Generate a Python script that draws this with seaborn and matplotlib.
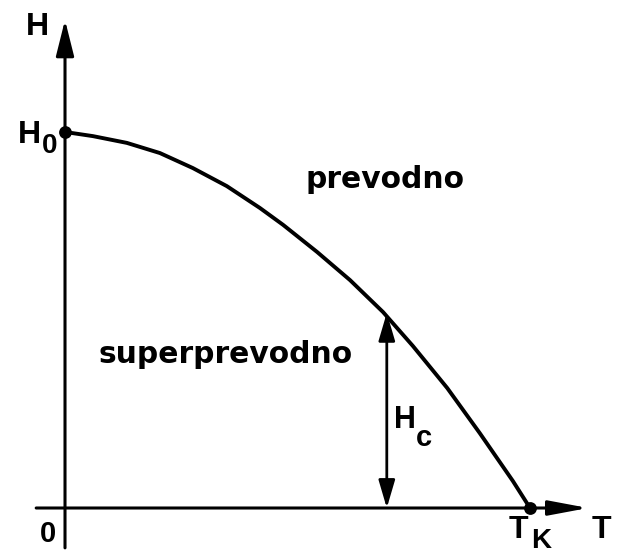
import matplotlib
matplotlib.use("Agg")
import matplotlib.pyplot as plt
import seaborn as sns
import pandas as pd

# Critical field curve H_c(T), read in units of T_K and H_0
temperature = [0.0, 0.060, 0.133, 0.204, 0.275, 0.348, 0.419, 0.469, 0.542,
               0.613, 0.684, 0.748, 0.822, 0.892, 0.963, 1.0]
critical_field = [1.0, 0.989, 0.971, 0.944, 0.904, 0.856, 0.798, 0.753, 0.681,
                  0.606, 0.521, 0.431, 0.319, 0.199, 0.072, 0.0]

# Marked points: H_0 on the field axis, T_K on the temperature axis
point_t = [0.0, 1.0]
point_h = [1.0, 0.0]

# Example temperature where H_c is indicated with a double arrow
hc_t = 0.692
hc_h = 0.519

region_labels = ["prevodno", "superprevodno"]

sns.set_theme(style="white")

fig = plt.figure(figsize=(6.18, 5.57), dpi=100)
ax = fig.add_axes([0, 0, 1, 1])
ax.set_xlim(-0.1398, 1.1892)
ax.set_ylim(-0.1303, 1.351)
ax.set_axis_off()

curve = pd.DataFrame({"T": temperature, "H": critical_field})
sns.lineplot(data=curve, x="T", y="H", ax=ax, color="black", lw=2.8,
             sort=False, estimator=None,
             solid_joinstyle="round", solid_capstyle="round")

pts = pd.DataFrame({"T": point_t, "H": point_h})
sns.scatterplot(data=pts, x="T", y="H", ax=ax, color="black", s=85,
                edgecolor="black", linewidth=0, zorder=5)

# Coordinate axes drawn as arrows
axis_kw = dict(color="black", lw=2.2, shrinkA=0, shrinkB=0, mutation_scale=1)
ax.annotate("", xy=(0, 1.298), xytext=(0, -0.106),
            arrowprops=dict(arrowstyle="-|>,head_length=22,head_width=5.5", **axis_kw))
ax.annotate("", xy=(1.125, 0), xytext=(-0.062, 0),
            arrowprops=dict(arrowstyle="-|>,head_length=24,head_width=4.5", **axis_kw))

# H_c double arrow
ax.annotate("", xy=(hc_t, hc_h), xytext=(hc_t, 0),
            arrowprops=dict(arrowstyle="<|-|>,head_length=17,head_width=5",
                            color="black", lw=2.0, shrinkA=0, shrinkB=0,
                            mutation_scale=1))

lab = dict(family="Liberation Sans", weight="bold", color="black",
           ha="center", va="center")
ax.text(-0.060, 1.279, "H", fontsize=23, **lab)
ax.text(-0.077, 0.992, "H", fontsize=23, **lab)
ax.text(-0.034, 0.962, "0", fontsize=20, **lab)
ax.text(-0.037, -0.069, "0", fontsize=21, **lab)
ax.text(0.976, -0.058, "T", fontsize=23, **lab)
ax.text(1.023, -0.088, "K", fontsize=20, **lab)
ax.text(1.153, -0.058, "T", fontsize=23, **lab)
ax.text(0.731, 0.234, "H", fontsize=22, **lab)
ax.text(0.772, 0.186, "c", fontsize=21, **lab)

reg = dict(family="DejaVu Sans", weight="bold", color="black",
           ha="center", va="baseline", fontsize=21.4)
ax.text(0.688, 0.851, region_labels[0], **reg)
ax.text(0.345, 0.386, region_labels[1], **reg)

fig.savefig("out.png", dpi=100, facecolor="white")
